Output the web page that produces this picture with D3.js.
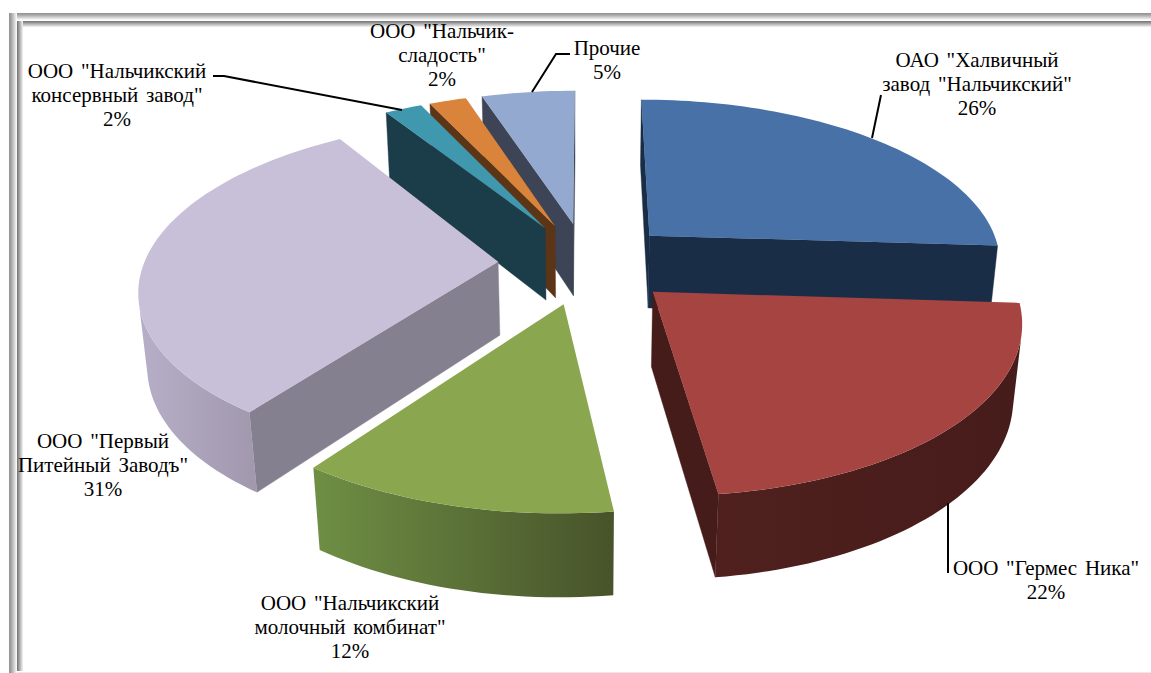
<!DOCTYPE html>
<html><head><meta charset="utf-8">
<script src="https://cdn.jsdelivr.net/npm/d3@7/dist/d3.min.js"></script>
<style>html,body{margin:0;padding:0;background:#fff;overflow:hidden}svg{display:block}
text{font-family:"Liberation Serif","Times New Roman",serif;font-size:21px;fill:#000;text-anchor:middle;word-spacing:2.5px}</style>
</head><body><svg id="c" width="1151" height="673"></svg>
<script>
const categories = ['ОАО "Халвичный завод "Нальчикский"','ООО "Гермес Ника"','ООО "Нальчикский молочный комбинат"','ООО "Первый Питейный Заводъ"','ООО "Нальчикский консервный завод"','ООО "Нальчик-сладость"','Прочие'];
const shares = [26,22,12,31,2,2,5];
const labelLines = [['ОАО "Халвичный','завод "Нальчикский"','26%'],['ООО "Гермес Ника"','22%'],['ООО "Нальчикский','молочный комбинат"','12%'],['ООО "Первый','Питейный Заводъ"','31%'],['ООО "Нальчикский','консервный завод"','2%'],['ООО "Нальчик-','сладость"','2%'],['Прочие','5%']];
const topColors = ['#4771a7','#a64442','#8aa64e','#c8bfd9','#3f98ae','#d9833b','#93a9cf'];
const cutColors = ['#1a2d46','#461c1a','#5f7a38','#858090','#1b3d49','#5c3516','#3c4455'];
const rimLeft = ['#1a2d46','#4f201e','#6f8f44','#b7afc7','#1b3d49','#5c3516','#3c4455'];
const rimRight = ['#1a2d46','#461c1a','#47532a','#a198ae','#1b3d49','#5c3516','#3c4455'];

// layout of the labels and leaders (not data)
const labelAt = [[977,60],[1046,568],[350,603],[103,441],[117,71],[442,31],[607,48]];
const leaders = [[[872,138],[881,95]],[[948,503],[948,573]],null,null,[[402,110],[224,76],[213,76]],null,[[532,92],[556,54],[570,54]]];

const svg = d3.select('#c');
const defs = svg.append('defs');
function grad(id,x1,y1,x2,y2,stops){
  const g=defs.append('linearGradient').attr('id',id).attr('x1',x1).attr('y1',y1).attr('x2',x2).attr('y2',y2);
  stops.forEach(s=>g.append('stop').attr('offset',s[0]).attr('stop-color',s[1]));
  return g;
}
grad('fh',0,0,1,0,[[0,'#8f8f8f'],[.3,'#a8a8a8'],[1,'#ffffff']]);
grad('fv',0,0,0,1,[[0,'#8f8f8f'],[.3,'#a8a8a8'],[1,'#ffffff']]);
grad('ih',0,0,1,0,[[0,'#707070'],[1,'#f4f4f4']]);
grad('iv',0,0,0,1,[[0,'#707070'],[1,'#f4f4f4']]);
const frame=svg.append('g');
frame.append('rect').attr('x',9).attr('y',13).attr('width',1142).attr('height',7).attr('fill','url(#fv)');
frame.append('rect').attr('x',9).attr('y',13).attr('width',8).attr('height',660).attr('fill','url(#fh)');
frame.append('rect').attr('x',17).attr('y',21).attr('width',1134).attr('height',6).attr('fill','url(#iv)');
frame.append('rect').attr('x',17).attr('y',21).attr('width',6).attr('height',650).attr('fill','url(#ih)');
frame.append('rect').attr('x',17).attr('y',672).attr('width',1134).attr('height',1).attr('fill','#e8e8e8');

// perspective pie model
const cx=586.5, cy=263, sx=354, sy=164, persp=.15, thick=75, thickPersp=.02, explode=.25;
const project=(u,v,w)=>{const d=1+persp*v+thickPersp*w;return [cx+sx*u/d, cy+(-sy*v+thick*w)/d];};

const arcs=d3.pie().sort(null).value(d=>d).startAngle(0).endAngle(2*Math.PI)(shares);
const angleSteps=d3.scaleLinear().domain([0,2*Math.PI]).range([0,240]);
const pathLine=d3.line();
const area2=p=>{let a=0;for(let i=0;i<p.length;i++){const q=p[(i+1)%p.length];a+=p[i][0]*q[1]-q[0]*p[i][1];}return a/2;};

function build(a,i){
  const mid=(a.startAngle+a.endAngle)/2, ou=explode*Math.sin(mid), ov=explode*Math.cos(mid);
  const rim=(t,w)=>project(ou+Math.sin(t),ov+Math.cos(t),w);
  const n=Math.max(3,Math.round(angleSteps(a.endAngle-a.startAngle)));
  const ts=d3.range(n+1).map(k=>a.startAngle+(a.endAngle-a.startAngle)*k/n);
  return {i,ts,rim,apexT:project(ou,ov,0),apexB:project(ou,ov,1)};
}
const solids=arcs.map(build);
// painter's order: far back first
const order=[0,6,5,4,3,1,2];
order.forEach(idx=>{
  const s=solids[idx], g=svg.append('g').attr('class','slice').datum(categories[idx]);
  const tp=s.ts.map(t=>s.rim(t,0)), bt=s.ts.map(t=>s.rim(t,1));
  const faces=[
    [s.apexT,tp[0],bt[0],s.apexB],
    [tp[tp.length-1],s.apexT,s.apexB,bt[bt.length-1]]
  ];
  faces.forEach(f=>{
    if(area2(f)<0) g.append('path').attr('d',pathLine(f)+'Z').attr('fill',cutColors[idx]).attr('stroke',cutColors[idx]).attr('stroke-width',.4);
  });
  // outer wall: the run of segments that faces the viewer, as one path with one gradient
  const vis=d3.range(tp.length-1).filter(k=>area2([tp[k],tp[k+1],bt[k+1],bt[k]])<0);
  if(vis.length){
    const a=vis[0], b=vis[vis.length-1]+1;
    const top=tp.slice(a,b+1), bot=bt.slice(a,b+1).reverse();
    const ext=d3.extent(top.concat(bot),p=>p[0]);
    const id='rim'+idx;
    grad(id,ext[0],0,ext[1],0,[[0,rimLeft[idx]],[1,rimRight[idx]]]).attr('gradientUnits','userSpaceOnUse');
    g.append('path').attr('d',pathLine(top.concat(bot))+'Z').attr('fill','url(#'+id+')');
  }
  g.append('path').attr('d',pathLine([s.apexT,...tp])+'Z').attr('fill',topColors[idx]);
});

// leaders & labels
leaders.forEach(l=>{ if(l) svg.append('path').attr('d',pathLine(l)).attr('fill','none').attr('stroke','#000').attr('stroke-width',2); });
labelLines.forEach((lines,i)=>{
  lines.forEach((t,k)=>{
    svg.append('text').attr('x',labelAt[i][0]).attr('y',labelAt[i][1]+k*24.3+6.5).text(t);
  });
});
</script></body></html>
